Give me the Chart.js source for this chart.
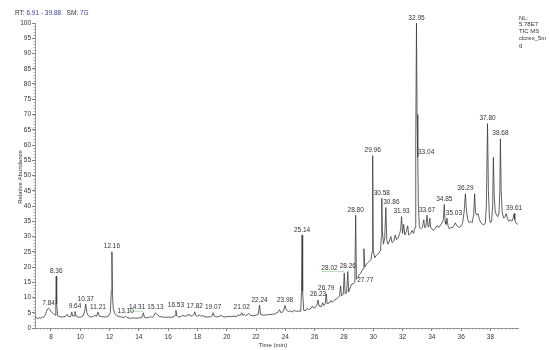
<!DOCTYPE html>
<html>
<head>
<meta charset="utf-8">
<script src="https://cdn.jsdelivr.net/npm/chart.js@4/dist/chart.umd.min.js"></script>
<style>
  html, body { margin: 0; padding: 0; background: #fff; }
</style>
</head>
<body>
<canvas id="chrom" width="550" height="350"></canvas>
<script>
// retention time (min) and relative abundance
var rt = [
  6.91, 7.0, 7.1, 7.2, 7.3, 7.4, 7.5, 7.6, 7.7, 7.78, 7.84, 7.9, 8.0, 8.1, 8.2, 8.28, 8.33, 8.36, 8.39, 8.45,
  8.6, 8.8, 9.0, 9.1, 9.2, 9.35, 9.42, 9.48, 9.58, 9.64, 9.7, 9.85, 10.0, 10.2, 10.3, 10.37, 10.45, 10.55, 10.7, 10.9,
  11.0, 11.1, 11.21, 11.3, 11.5, 11.7, 11.9, 12.05, 12.12, 12.16, 12.2, 12.25, 12.35, 12.5, 12.7, 12.9, 13.0, 13.1, 13.2, 13.4,
  13.6, 13.8, 14.0, 14.2, 14.31, 14.38, 14.5, 14.7, 14.8, 14.9, 15.0, 15.13, 15.25, 15.4, 15.6, 15.8, 16.0, 16.2, 16.4, 16.48,
  16.53, 16.58, 16.7, 16.9, 17.0, 17.1, 17.3, 17.4, 17.5, 17.65, 17.75, 17.82, 17.88, 18.0, 18.1, 18.2, 18.3, 18.5, 18.7, 18.9,
  19.0, 19.07, 19.15, 19.3, 19.5, 19.6, 19.7, 19.9, 20.1, 20.3, 20.5, 20.7, 20.8, 20.9, 21.02, 21.1, 21.2, 21.3, 21.5, 21.6,
  21.8, 22.0, 22.15, 22.24, 22.3, 22.5, 22.7, 22.9, 23.1, 23.3, 23.5, 23.6, 23.7, 23.85, 23.98, 24.05, 24.2, 24.35, 24.5, 24.6,
  24.75, 24.9, 25.05, 25.1, 25.14, 25.18, 25.25, 25.4, 25.5, 25.6, 25.75, 25.85, 25.95, 26.05, 26.15, 26.23, 26.3, 26.45, 26.55, 26.62,
  26.72, 26.79, 26.85, 27.0, 27.1, 27.2, 27.35, 27.5, 27.6, 27.7, 27.77, 27.83, 27.95, 28.02, 28.08, 28.18, 28.26, 28.32, 28.45, 28.55,
  28.65, 28.74, 28.8, 28.85, 28.95, 29.05, 29.15, 29.25, 29.32, 29.36, 29.42, 29.55, 29.65, 29.75, 29.85, 29.92, 29.96, 30.0, 30.1, 30.2,
  30.3, 30.4, 30.5, 30.55, 30.58, 30.62, 30.7, 30.78, 30.86, 30.92, 31.0, 31.1, 31.2, 31.28, 31.4, 31.5, 31.58, 31.7, 31.8, 31.87,
  31.93, 32.0, 32.08, 32.15, 32.25, 32.35, 32.42, 32.55, 32.65, 32.75, 32.85, 32.9, 32.95, 32.99, 33.04, 33.08, 33.15, 33.25, 33.35, 33.45,
  33.5, 33.58, 33.67, 33.74, 33.8, 33.86, 33.92, 34.0, 34.1, 34.2, 34.35, 34.5, 34.6, 34.7, 34.78, 34.85, 34.9, 34.96, 35.03, 35.1,
  35.2, 35.3, 35.4, 35.5, 35.6, 35.7, 35.8, 35.9, 36.0, 36.1, 36.2, 36.29, 36.35, 36.45, 36.55, 36.65, 36.75, 36.85, 36.92, 36.98,
  37.05, 37.15, 37.25, 37.35, 37.45, 37.55, 37.65, 37.72, 37.8, 37.86, 37.93, 38.0, 38.08, 38.15, 38.2, 38.26, 38.33, 38.42, 38.5, 38.58,
  38.64, 38.68, 38.73, 38.8, 38.9, 39.0, 39.08, 39.15, 39.25, 39.35, 39.45, 39.55, 39.61, 39.66, 39.72, 39.8, 39.88
];
var abundance = [
  3.3, 3.5, 3.0, 3.4, 3.2, 3.6, 3.5, 4.2, 5.5, 6.3, 6.5, 6.2, 5.4, 5.0, 4.6, 4.2, 8.0, 17.0, 8.0, 4.0,
  3.7, 3.6, 3.8, 4.5, 3.7, 3.8, 5.2, 3.9, 4.0, 5.4, 4.0, 3.6, 3.5, 4.0, 5.5, 7.8, 5.0, 4.0, 3.6, 3.7,
  4.2, 3.8, 5.2, 3.9, 3.7, 3.6, 3.8, 5.0, 12.0, 25.0, 11.0, 6.5, 4.8, 4.0, 3.7, 3.5, 3.4, 3.9, 3.4, 3.2,
  3.3, 3.2, 3.3, 3.4, 5.0, 3.5, 3.3, 3.5, 3.9, 3.4, 3.8, 5.0, 4.4, 3.8, 3.6, 3.5, 3.6, 3.5, 3.7, 4.2,
  5.8, 4.0, 3.6, 3.8, 4.2, 3.9, 4.0, 4.6, 3.9, 4.0, 4.4, 5.3, 4.1, 3.8, 4.3, 3.9, 4.1, 3.7, 3.6, 3.7,
  4.0, 5.0, 3.9, 3.6, 3.8, 4.2, 3.8, 3.6, 3.8, 3.7, 3.9, 3.8, 4.4, 4.0, 5.0, 4.1, 4.5, 4.0, 4.8, 4.2,
  4.0, 4.2, 4.5, 7.5, 4.5, 4.2, 4.3, 4.4, 4.5, 4.6, 5.2, 6.0, 5.0, 5.4, 7.4, 6.0, 5.4, 5.6, 5.2, 5.8,
  5.4, 5.6, 5.5, 12.0, 30.5, 12.0, 5.8, 5.7, 6.5, 6.0, 6.4, 7.2, 6.5, 6.8, 7.5, 9.2, 7.2, 7.0, 8.3, 7.4,
  8.0, 11.2, 8.0, 8.2, 9.0, 8.4, 9.2, 9.6, 10.0, 10.5, 13.8, 10.5, 11.0, 18.0, 11.2, 11.5, 18.5, 11.8, 13.5, 14.5,
  14.5, 15.0, 37.0, 16.0, 16.5, 17.5, 18.0, 19.0, 19.5, 26.0, 20.0, 21.0, 21.5, 22.0, 22.5, 25.0, 56.5, 25.5, 23.0, 23.8,
  24.2, 24.6, 25.5, 30.0, 42.5, 32.0, 27.5, 29.5, 39.5, 29.0, 27.5, 28.5, 30.0, 28.0, 28.5, 30.5, 29.0, 29.5, 31.0, 32.0,
  36.5, 31.0, 34.0, 30.5, 31.5, 33.5, 30.5, 31.0, 32.0, 31.0, 33.0, 60.0, 100.0, 70.0, 56.0, 40.0, 33.0, 32.5, 33.0, 35.5,
  33.0, 33.0, 37.0, 33.2, 33.5, 36.0, 33.0, 32.5, 32.0, 32.5, 33.5, 33.0, 33.8, 34.5, 35.5, 40.5, 35.0, 34.0, 36.0, 33.5,
  32.5, 33.0, 32.8, 33.5, 34.5, 33.5, 33.2, 33.0, 33.5, 34.5, 38.0, 44.0, 39.0, 35.5, 34.5, 35.0, 34.5, 37.0, 44.0, 38.0,
  37.0, 37.5, 35.5, 34.5, 34.0, 33.8, 34.5, 40.0, 67.0, 45.0, 36.0, 34.5, 35.0, 40.0, 56.0, 43.0, 38.0, 37.0, 36.5, 37.5,
  45.0, 62.0, 45.0, 38.0, 36.0, 36.5, 37.5, 36.0, 35.0, 35.5, 35.0, 36.0, 37.5, 35.5, 34.5, 34.2, 34.0
];
// labelled peaks
var peakTimes = [7.84, 8.36, 9.64, 10.37, 11.21, 12.16, 13.1, 14.31, 15.13, 16.53, 17.82, 19.07, 21.02, 22.24, 23.98,
  25.14, 26.23, 26.79, 27.77, 28.02, 28.26, 28.8, 29.96, 30.58, 30.86, 31.93, 32.95, 33.04, 33.67, 34.85, 35.03,
  36.29, 37.8, 38.68, 39.61];

var xMin = 6.91, xMax = 39.88;
var xTicks = [8, 10, 12, 14, 16, 18, 20, 22, 24, 26, 28, 30, 32, 34, 36, 38];
var yTicks = [0, 5, 10, 15, 20, 25, 30, 35, 40, 45, 50, 55, 60, 65, 70, 75, 80, 85, 90, 95, 100];
var infoLines = ['NL:', '5.78E7', 'TIC MS', 'clcrex_5m', 'g'];
var smoothing = '7G';

var FONT = '"Liberation Sans", Arial, sans-serif';
var AXIS = '#808080';

var decorations = {
  id: 'decorations',
  afterDraw: function(chart) {
    var ctx = chart.ctx, xs = chart.scales.x, ys = chart.scales.y, a = chart.chartArea;
    ctx.save();
    // minor ticks
    ctx.strokeStyle = AXIS;
    ctx.lineWidth = 0.6;
    ctx.beginPath();
    for (var i = 0; i * 0.25 + 7 <= xMax; i++) {
      var px = Math.round(xs.getPixelForValue(7 + i * 0.25)) + 0.5;
      ctx.moveTo(px, a.bottom); ctx.lineTo(px, a.bottom + 1.5);
    }
    for (var j = 0; j <= 100; j++) {
      var py = Math.round(ys.getPixelForValue(j)) + 0.5;
      ctx.moveTo(a.left, py); ctx.lineTo(a.left - 1.5, py);
    }
    ctx.stroke();

    // header
    ctx.font = '6.5px ' + FONT;
    ctx.textBaseline = 'middle';
    ctx.textAlign = 'left';
    var parts = [['RT: ', '#333'], [xMin.toFixed(2) + ' - ' + xMax.toFixed(2), '#3a3aa8'], ['   SM: ', '#333'], [smoothing, '#3a3aa8']];
    var x = 15;
    parts.forEach(function(p) {
      ctx.fillStyle = p[1];
      ctx.fillText(p[0], x, 13);
      x += ctx.measureText(p[0]).width;
    });

    ctx.fillStyle = '#333';
    ctx.font = '6px ' + FONT;
    infoLines.forEach(function(s, k) {
      ctx.fillText(s, 519, 18 + k * 6.8);
    });

    // axis titles
    ctx.textAlign = 'center';
    ctx.fillText('Time (min)', 273, 345);
    ctx.translate(20, 177);
    ctx.rotate(-Math.PI / 2);
    ctx.fillText('Relative Abundance', 0, 0);
    ctx.restore();
  }
};

var peakLabels = {
  id: 'peakLabels',
  afterDatasetsDraw: function(chart) {
    var ctx = chart.ctx, xs = chart.scales.x, ys = chart.scales.y;
    ctx.save();
    ctx.font = '6.5px ' + FONT;
    ctx.textBaseline = 'bottom';
    ctx.textAlign = 'left';
    ctx.fillStyle = '#333';
    var peaks = peakTimes.map(function(t) {
      var i = rt.indexOf(t);
      return { t: t, px: xs.getPixelForValue(t), py: ys.getPixelForValue(abundance[i]), text: t.toFixed(2) };
    });
    var placed = [];
    var h = 6;
    peaks.slice().sort(function(a, b) { return b.t - a.t; }).forEach(function(p) {
      var w = ctx.measureText(p.text).width;
      var x = p.px - w / 2, y = p.py - 2;
      // step off the line of a taller neighbour
      peaks.forEach(function(q) {
        if (q !== p && q.py < y - h && q.px > x + 1 && q.px < x + w - 1) x = q.px + 1.5;
      });
      var shifted = false;
      placed.forEach(function(b) {
        if (x < b.x + b.w - 2 && x + w - 2 > b.x && Math.abs(y - b.y) < 3) {
          x = b.x - w - 2; shifted = true;
        }
      });
      if (shifted) {
        ctx.strokeStyle = '#7fbf7f';
        ctx.lineWidth = 0.6;
        ctx.beginPath();
        ctx.moveTo(x, y + 0.5); ctx.lineTo(p.px, y + 0.5);
        ctx.stroke();
      }
      ctx.fillText(p.text, x, y);
      placed.push({ x: x, y: y, w: w });
    });
    ctx.restore();
  }
};

new Chart(document.getElementById('chrom'), {
  type: 'line',
  data: {
    datasets: [{
      data: rt.map(function(t, i) { return { x: t, y: abundance[i] }; }),
      borderColor: '#3a3a3a',
      borderWidth: 0.8,
      pointRadius: 0,
      tension: 0,
      fill: false,
      clip: false
    }]
  },
  options: {
    responsive: false,
    animation: false,
    layout: { padding: { left: 0, top: 23, right: 32, bottom: 0 } },
    plugins: { legend: { display: false }, tooltip: { enabled: false } },
    scales: {
      x: {
        type: 'linear',
        min: xMin,
        max: xMax,
        afterBuildTicks: function(s) { s.ticks = xTicks.map(function(v) { return { value: v }; }); },
        afterFit: function(s) { s.height = 22; },
        grid: { drawOnChartArea: false, drawTicks: true, tickLength: 3, color: AXIS },
        border: { display: true, color: AXIS, width: 0.8 },
        ticks: { font: { size: 6.5, family: FONT }, color: '#333', padding: 2, maxRotation: 0, autoSkip: false }
      },
      y: {
        min: 0,
        max: 100,
        afterBuildTicks: function(s) { s.ticks = yTicks.map(function(v) { return { value: v }; }); },
        afterFit: function(s) { s.width = 35; },
        grid: { drawOnChartArea: false, drawTicks: true, tickLength: 3, color: AXIS },
        border: { display: true, color: AXIS, width: 0.8 },
        ticks: { font: { size: 6.5, family: FONT }, color: '#333', padding: 1, autoSkip: false }
      }
    }
  },
  plugins: [decorations, peakLabels]
});
</script>
</body>
</html>
